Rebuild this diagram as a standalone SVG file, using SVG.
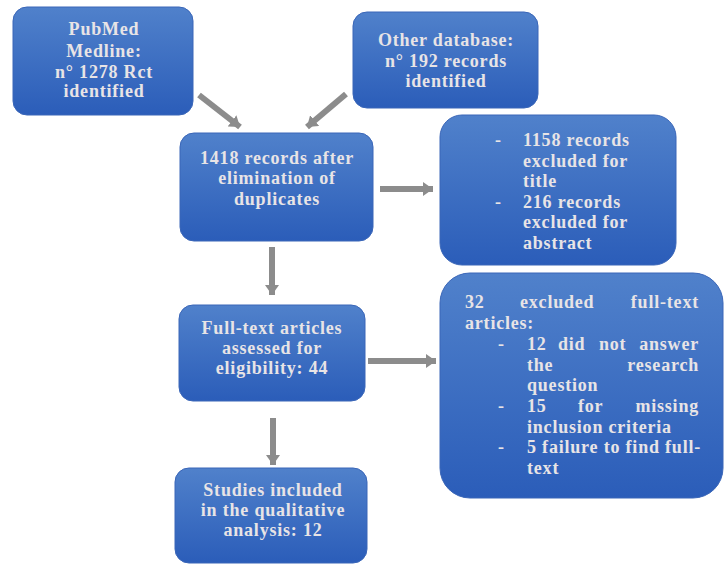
<svg xmlns="http://www.w3.org/2000/svg" width="726" height="566" viewBox="0 0 726 566">
<defs>
<linearGradient id="bg" x1="0" y1="0" x2="0" y2="1">
<stop offset="0" stop-color="#5081cb"/>
<stop offset="1" stop-color="#2b5db9"/>
</linearGradient>
<marker id="ah" markerUnits="userSpaceOnUse" markerWidth="12" markerHeight="14" refX="10" refY="7" orient="auto">
<path d="M0,0 L10,7 L0,14 Z" fill="#8c8c8c"/>
</marker>
<style>
.box{fill:url(#bg);stroke:#3a66b8;stroke-width:1}
.t{font-family:"Liberation Serif","Times New Roman",serif;font-weight:bold;font-size:18px;letter-spacing:0.8px;fill:#e8e4e6}
.c{text-anchor:middle}
.e{text-anchor:end}
.conn line{stroke:#8c8c8c;stroke-width:6;marker-end:url(#ah)}
</style>
</defs>
<rect width="726" height="566" fill="#ffffff"/>
<g class="conn" id="connectors">
<line x1="199" y1="95" x2="240" y2="127"/>
<line x1="346" y1="94" x2="307" y2="127"/>
<line x1="272" y1="247" x2="272" y2="295"/>
<line x1="380" y1="189" x2="433" y2="189"/>
<line x1="273" y1="418" x2="273" y2="465"/>
<line x1="368" y1="361" x2="436" y2="361"/>
</g>
<g id="pubmed">
<rect class="box" x="13" y="7" width="180" height="108" rx="14"/>
<text class="t c" x="104" y="35">PubMed</text>
<text class="t c" x="104" y="57">Medline:</text>
<text class="t c" x="104" y="78">n° 1278 Rct</text>
<text class="t c" x="104" y="97">identified</text>
</g>
<g id="other">
<rect class="box" x="353" y="12" width="185" height="96" rx="14"/>
<text class="t c" x="446" y="46">Other database:</text>
<text class="t c" x="446" y="67">n° 192 records</text>
<text class="t c" x="446" y="87">identified</text>
</g>
<g id="records">
<rect class="box" x="180" y="133" width="193" height="108" rx="14"/>
<text class="t c" x="277" y="164">1418 records after</text>
<text class="t c" x="277" y="184">elimination of</text>
<text class="t c" x="277" y="205">duplicates</text>
</g>
<g id="excluded1">
<rect class="box" x="440" y="115" width="236" height="150" rx="22"/>
<text class="t" x="495" y="146">-</text>
<text class="t" x="523" y="146">1158 records</text>
<text class="t" x="523" y="167">excluded for</text>
<text class="t" x="523" y="187">title</text>
<text class="t" x="495" y="208">-</text>
<text class="t" x="523" y="208">216 records</text>
<text class="t" x="523" y="228">excluded for</text>
<text class="t" x="523" y="249">abstract</text>
</g>
<g id="fulltext">
<rect class="box" x="179" y="305" width="186" height="96" rx="14"/>
<text class="t c" x="272" y="334">Full-text articles</text>
<text class="t c" x="272" y="354">assessed for</text>
<text class="t c" x="272" y="374">eligibility: 44</text>
</g>
<g id="excluded2">
<rect class="box" x="440" y="273" width="283" height="225" rx="30"/>
<text class="t" x="465" y="308">32</text>
<text class="t" x="520" y="308">excluded</text>
<text class="t e" x="699" y="308">full-text</text>
<text class="t" x="465" y="329">articles:</text>
<text class="t" x="498" y="350">-</text>
<text class="t" x="527" y="350">12</text>
<text class="t" x="558" y="350">did</text>
<text class="t" x="599" y="350">not</text>
<text class="t e" x="699" y="350">answer</text>
<text class="t" x="527" y="371">the</text>
<text class="t e" x="699" y="371">research</text>
<text class="t" x="527" y="391">question</text>
<text class="t" x="498" y="412">-</text>
<text class="t" x="527" y="412">15</text>
<text class="t" x="578" y="412">for</text>
<text class="t e" x="699" y="412">missing</text>
<text class="t" x="527" y="433">inclusion criteria</text>
<text class="t" x="498" y="453">-</text>
<text class="t" x="527" y="453">5 failure to find full-</text>
<text class="t" x="527" y="474">text</text>
</g>
<g id="studies">
<rect class="box" x="175" y="468" width="192" height="95" rx="14"/>
<text class="t c" x="273" y="496">Studies included</text>
<text class="t c" x="273" y="516">in the qualitative</text>
<text class="t c" x="273" y="536">analysis: 12</text>
</g>
</svg>
